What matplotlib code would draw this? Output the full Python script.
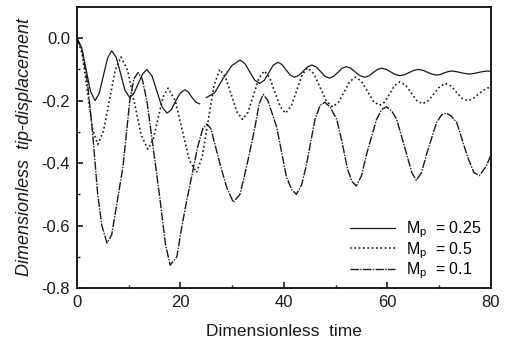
import numpy as np
import matplotlib
matplotlib.use('Agg')
import matplotlib.pyplot as plt

# M_p = 0.25 (thin solid, smallest amplitude)
t_025 = [0, 0.9, 1.75, 2.6, 3.5, 4.3, 5.1, 5.9, 6.7, 7.6, 8.45, 9.3, 10.2, 11.0, 11.85, 12.7,
         13.5, 14.5, 15.45, 16.4, 17.4, 18.25, 19.1, 19.95, 20.8, 21.5, 22.25, 23.0, 23.7, 24.3,
         25.0, 26.6, 28.2, 29.9, 31.5, 32.45, 33.4, 34.35, 35.3, 36.2, 37.05, 37.9, 38.8, 39.6,
         40.4, 41.2, 42.0, 42.85, 43.7, 44.55, 45.4, 46.25, 47.1, 47.95, 48.8, 49.6, 50.4, 51.2,
         52.0, 52.9, 53.8, 54.7, 55.6, 56.4, 57.25, 58.1, 58.9, 59.8, 60.65, 61.5, 62.4, 63.3,
         64.2, 65.1, 66.0, 66.9, 67.75, 68.6, 69.5, 70.25, 71.0, 71.75, 72.5, 73.3, 74.15, 75.0,
         75.8, 76.7, 77.55, 78.4, 79.3, 80.0]
y_025 = [0, -0.03, -0.10, -0.17, -0.20, -0.176, -0.12, -0.064, -0.04, -0.062, -0.115, -0.168,
         -0.19, -0.176, -0.145, -0.114, -0.10, -0.121, -0.17, -0.219, -0.24, -0.229, -0.20, -0.176,
         -0.165, -0.172, -0.19, -0.205, -0.21, np.nan, -0.19, -0.175, -0.13, -0.088, -0.07, -0.081,
         -0.108, -0.134, -0.145, -0.135, -0.111, -0.087, -0.077, -0.084, -0.101, -0.118, -0.125,
         -0.119, -0.106, -0.092, -0.086, -0.092, -0.107, -0.122, -0.128, -0.122, -0.11, -0.097,
         -0.091, -0.096, -0.108, -0.12, -0.125, -0.121, -0.11, -0.10, -0.096, -0.10, -0.108,
         -0.116, -0.12, -0.117, -0.11, -0.103, -0.10, -0.103, -0.109, -0.115, -0.118, -0.116,
         -0.111, -0.107, -0.105, -0.107, -0.11, -0.113, -0.115, -0.113, -0.11, -0.107, -0.105,
         -0.106]

# M_p = 0.5 (dotted)
t_05 = [0, 1, 2, 3, 4, 5.1, 6.25, 7.4, 8.5, 9.8, 11.1, 12.4, 13.7, 14.7, 15.65, 16.6, 17.6, 19.0,
        20.35, 21.7, 23.1, 24.2, 25.35, 26.5, 27.6, 28.7, 29.8, 30.9, 32.0, 33.05, 34.1, 35.15,
        36.2, 37.2, 38.25, 39.3, 40.3, 41.4, 42.45, 43.5, 44.6, 45.8, 47.0, 48.2, 49.4, 50.5,
        51.6, 52.7, 53.8, 55.0, 56.15, 57.3, 58.5, 59.5, 60.45, 61.4, 62.4, 63.5, 64.6, 65.7,
        66.8, 67.9, 69.0, 70.1, 71.2, 72.3, 73.35, 74.4, 75.5, 76.6, 77.75, 78.9, 80.0]
y_05 = [0, -0.05, -0.17, -0.29, -0.34, -0.298, -0.20, -0.102, -0.06, -0.104, -0.207, -0.31,
        -0.355, -0.326, -0.258, -0.189, -0.16, -0.20, -0.295, -0.39, -0.43, -0.38, -0.265, -0.15,
        -0.10, -0.124, -0.18, -0.236, -0.26, -0.237, -0.183, -0.128, -0.105, -0.125, -0.173,
        -0.22, -0.24, -0.218, -0.168, -0.117, -0.095, -0.114, -0.158, -0.201, -0.22, -0.206,
        -0.173, -0.139, -0.125, -0.138, -0.17, -0.202, -0.215, -0.204, -0.178, -0.151, -0.14,
        -0.15, -0.175, -0.20, -0.21, -0.20, -0.178, -0.155, -0.145, -0.153, -0.173, -0.192,
        -0.20, -0.193, -0.177, -0.163, -0.155]

# M_p = 0.1 (dash-dot, large amplitude)
t_01 = [0, 1, 2, 3, 4, 4.8, 5.8, 6.7, 7.8, 8.9, 10.2, 11.0, 11.8, 12.6, 13.5, 14.8, 16.0, 17.1,
        18.0, 19.3, 20.3, 21.2, 22.2, 23.3, 24.3, 25.1, 25.9, 26.5, 27.6, 28.9, 30.2, 31.5, 32.8,
        34.4, 35.2, 36.0, 36.9, 38.6, 40.5, 41.5, 42.4, 43.4, 44.3, 46.0, 47.0, 47.9, 48.9, 50.2,
        51.2, 52.3, 53.2, 54.0, 55.0, 56.0, 57.9, 58.9, 59.8, 60.8, 61.8, 63.7, 64.7, 65.6, 66.6,
        67.6, 69.5, 70.5, 71.4, 72.4, 73.4, 75.5, 76.7, 77.8, 79.1, 80.0]
y_01 = [0, -0.04, -0.14, -0.30, -0.50, -0.60, -0.656, -0.63, -0.52, -0.41, -0.20, -0.13, -0.11,
        -0.13, -0.20, -0.36, -0.51, -0.66, -0.727, -0.70, -0.60, -0.52, -0.44, -0.35, -0.29,
        -0.275, -0.29, -0.33, -0.40, -0.476, -0.525, -0.50, -0.41, -0.285, -0.21, -0.18, -0.20,
        -0.285, -0.445, -0.485, -0.50, -0.47, -0.41, -0.26, -0.215, -0.205, -0.22, -0.26, -0.33,
        -0.42, -0.46, -0.473, -0.44, -0.37, -0.26, -0.228, -0.22, -0.232, -0.26, -0.37, -0.43,
        -0.455, -0.43, -0.37, -0.27, -0.245, -0.24, -0.25, -0.27, -0.38, -0.43, -0.44, -0.41,
        -0.375]

labels = ['M$_{p}$  = 0.25', 'M$_{p}$  = 0.5', 'M$_{p}$  = 0.1']

plt.rcParams['font.family'] = ['Liberation Sans', 'DejaVu Sans']
plt.rcParams['mathtext.default'] = 'regular'

fig = plt.figure(figsize=(5.05, 3.41), dpi=100)
ax = fig.add_axes([0.1525, 0.1554, 0.8195, 0.8241])

ink = '#1a1a1a'
ax.plot(t_025, y_025, color=ink, lw=0.9, linestyle='-', label=labels[0])
ax.plot(t_05, y_05, color=ink, lw=1.2, linestyle=(0, (1, 1.6)), label=labels[1])
ax.plot(t_01, y_01, color=ink, lw=1.0, linestyle=(0, (6, 1, 1, 1)), label=labels[2])

ax.set_xlim(0, 80)
ax.set_ylim(-0.8, 0.1)
ax.set_xticks([0, 20, 40, 60, 80])
ax.set_xticks([10, 30, 50, 70], minor=True)
ax.set_yticks([-0.8, -0.6, -0.4, -0.2, 0.0])
ax.set_yticks([-0.7, -0.5, -0.3, -0.1], minor=True)
ax.set_yticklabels(['-0.8', '-0.6', '-0.4', '-0.2', '0.0'])
ax.tick_params(which='both', direction='in', top=False, right=False, labelsize=12, colors=ink)
ax.tick_params(which='major', length=4, width=1.2, pad=5)
ax.tick_params(which='minor', length=2.5, width=1)
for s in ax.spines.values():
    s.set_linewidth(1.4)
    s.set_color(ink)

ax.set_xlabel('Dimensionless  time', fontsize=12.5, labelpad=10, color=ink)
ax.set_ylabel('Dimensionless  tip-displacement', fontsize=13, style='italic', labelpad=6, color=ink)

ax.legend(loc='lower right', bbox_to_anchor=(1.0, -0.01), frameon=False, fontsize=11.5,
          handlelength=2.8, labelspacing=0.0, borderaxespad=0.2, handletextpad=0.7)

fig.savefig('out.png', dpi=100)
